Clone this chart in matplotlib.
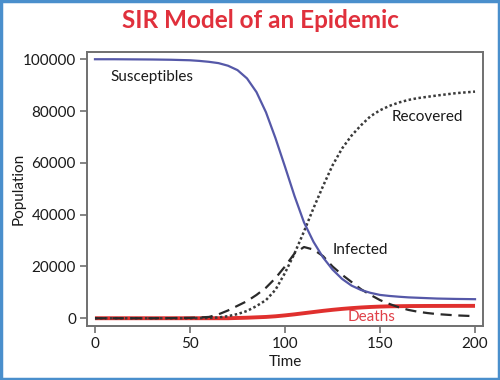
import matplotlib
matplotlib.use("Agg")
import matplotlib.pyplot as plt
from matplotlib.patches import Rectangle

plt.rcParams['font.family'] = ['Lato', 'DejaVu Sans']

time = [0, 10, 20, 30, 40, 50, 55, 60, 65, 70, 75, 80, 85, 90, 95, 100, 105, 110, 115,
        120, 125, 130, 135, 140, 145, 150, 155, 160, 165, 170, 175, 180, 190, 200]
susceptible = [100000, 100000, 99950, 99900, 99800, 99600, 99350, 99000, 98500, 97500, 95800, 92600,
               87300, 79500, 69500, 58500, 47200, 37000, 29500, 23500, 18800, 15200, 12600,
               10900, 9800, 9000, 8600, 8300, 8050, 7900, 7750, 7600, 7450, 7350]
infected = [0, 0, 0, 0, 50, 150, 300, 500, 1500, 3000, 4800, 6600, 9000, 11800, 15500, 20000,
            25000, 27500, 26500, 24000, 20000, 16800, 14000, 11200, 9000, 7000, 5500, 4200,
            3200, 2500, 2000, 1600, 1100, 800]
recovered = [0, 0, 0, 0, 0, 0, 50, 100, 300, 800, 1600, 2800, 4700, 7000, 11000, 17500, 25000,
             33500, 42500, 51000, 59000, 65500, 70500, 74500, 78000, 80300, 82000, 83300, 84300,
             85000, 85500, 86000, 86900, 87500]
deaths = [0, 0, 0, 0, 0, 0, 0, 0, 0, 0, 100, 200, 350, 500, 750, 1100, 1500, 1950, 2400, 2850,
          3250, 3600, 3900, 4150, 4350, 4500, 4600, 4650, 4700, 4720, 4740, 4750, 4770, 4780]

x_ticks = [0, 50, 100, 150, 200]
y_ticks = [0, 20000, 40000, 60000, 80000, 100000]

fig = plt.figure(figsize=(5, 3.8), dpi=100)
fig.patch.set_facecolor('white')
ax = fig.add_axes([0.174, 0.1421, 0.792, 0.7211])

ax.plot(time, deaths, color='#e0302e', lw=2.8, solid_capstyle='butt', zorder=2)
ax.plot(time, recovered, color='#3a3a3a', lw=1.8, linestyle=(0, (1, 1)), zorder=3)
ax.plot(time, infected, color='#2a2a2a', lw=1.6, linestyle=(0, (5, 3)), zorder=3)
ax.plot(time, susceptible, color='#5558a8', lw=1.6, zorder=4)

ax.set_xlim(-4.2, 204.2)
ax.set_ylim(-3000, 102800)
ax.set_xticks(x_ticks)
ax.set_yticks(y_ticks)
ax.set_xticklabels([str(v) for v in x_ticks])
ax.set_yticklabels([str(v) for v in y_ticks])

for s in ax.spines.values():
    s.set_color('#707070')
    s.set_linewidth(1.4)
ax.tick_params(axis='both', direction='out', length=5, width=1.2, color='#707070',
               labelsize=11, labelcolor='#1a1a1a', pad=3)

ax.set_xlabel('Time', fontsize=11, color='#1a1a1a', va='center')
ax.xaxis.set_label_coords(0.5, -0.131)
ax.set_ylabel('Population', fontsize=11, color='#1a1a1a', va='center')
ax.yaxis.set_label_coords(-0.172, 0.5)

ax.text(7.9, 93300, 'Susceptibles', fontsize=11, color='#1a1a1a', va='center', ha='left')
ax.text(156.3, 77700, 'Recovered', fontsize=11, color='#1a1a1a', va='center', ha='left')
ax.text(125.3, 26400, 'Infected', fontsize=11, color='#1a1a1a', va='center', ha='left')
ax.text(133.2, 500, 'Deaths', fontsize=11, color='#e04048', va='center', ha='left')

fig.text(0.52, 0.947, 'SIR Model of an Epidemic', fontsize=17.5, fontweight='bold',
         color='#e0303c', ha='center', va='center')

fig.patches.append(Rectangle((0.002, 0.003), 0.996, 0.994, transform=fig.transFigure,
                             fill=False, edgecolor='#4a8fcc', linewidth=2.5))

fig.savefig('out.png', dpi=100)
